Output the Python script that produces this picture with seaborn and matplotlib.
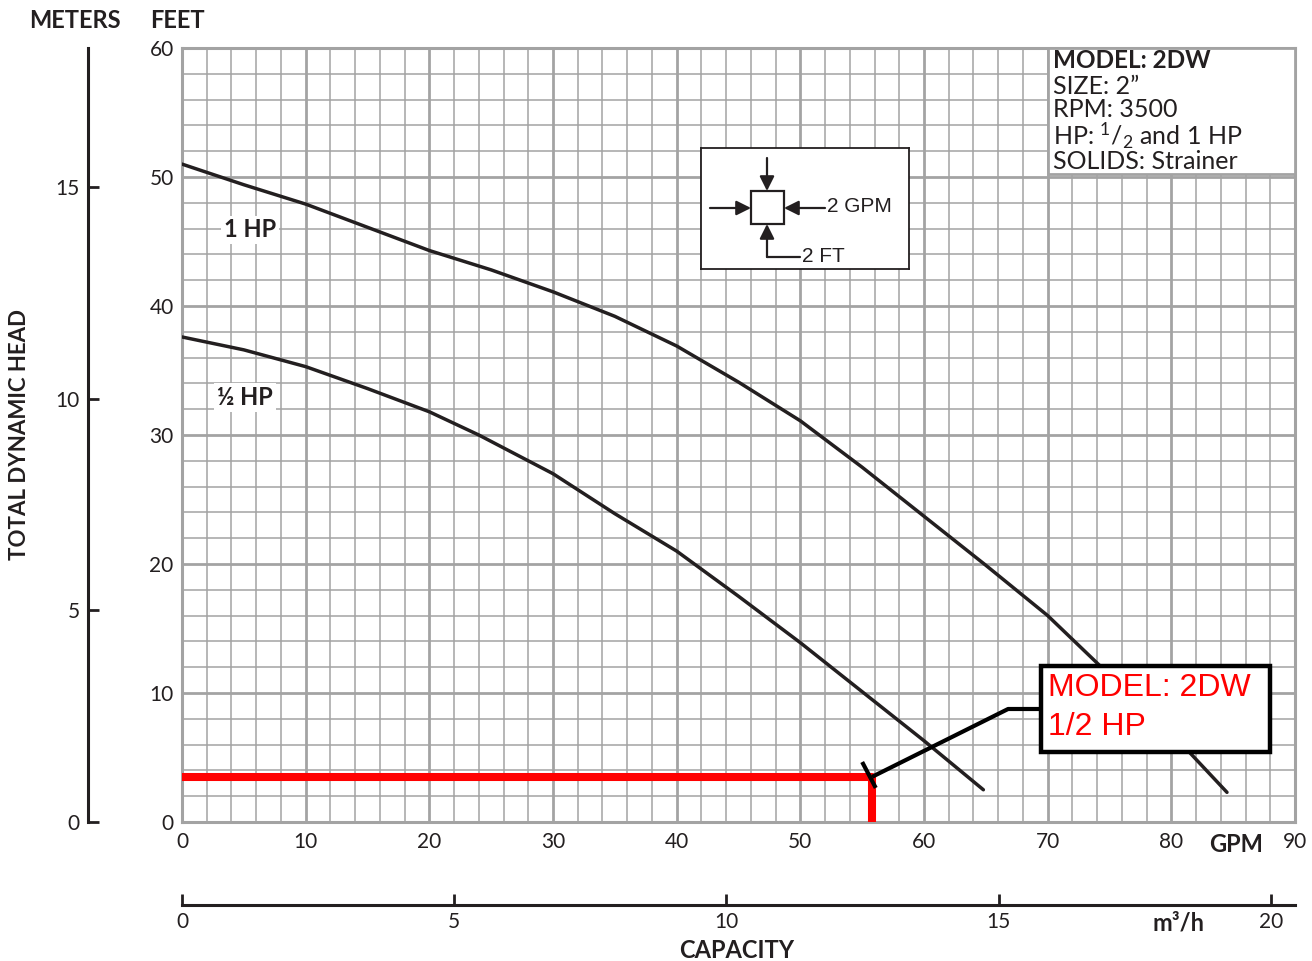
import numpy as np
import pandas as pd
import seaborn as sns
import matplotlib.pyplot as plt
from matplotlib.patches import Rectangle

# pump curve data (GPM vs feet of head)
gpm_1hp = [0, 5, 10, 15, 20, 25, 30, 35, 40, 45, 50, 55, 60, 65, 70, 75, 80, 84.5]
head_1hp = [51.0, 49.4, 47.9, 46.1, 44.3, 42.8, 41.1, 39.2, 36.9, 34.1, 31.1, 27.5,
            23.7, 19.9, 16.0, 11.4, 6.9, 2.3]
gpm_half = [0, 5, 10, 15, 20, 24, 30, 35, 40, 45, 50, 55, 60, 64.8]
head_half = [37.6, 36.6, 35.3, 33.6, 31.8, 30.0, 27.0, 23.9, 21.0, 17.5, 13.9, 10.1, 6.3, 2.5]

# duty point marked in red
duty_gpm = [0, 55.8, 55.8]
duty_head = [3.5, 3.5, 0]

spec_title = "MODEL: 2DW"
spec_lines = ["SIZE: 2”", "RPM: 3500",
              "HP: $\\mathregular{^1/_2}$ and 1 HP", "SOLIDS: Strainer"]
GPM_PER_M3H = 4.4029
FT_PER_M = 3.2808

sns.set_theme(style="white")
plt.rcParams['font.family'] = ['Lato', 'DejaVu Sans']
plt.rcParams['mathtext.fontset'] = 'custom'
plt.rcParams['mathtext.rm'] = 'Lato'
plt.rcParams['mathtext.default'] = 'regular'

W, H = 1312, 961
ink = '#231f20'
grid_c = '#a3a3a3'

fig = plt.figure(figsize=(13.12, 9.61), dpi=100)
fig.patch.set_facecolor('white')
ax = fig.add_axes([182 / W, 1 - 822 / H, 1113 / W, 774 / H])

df1 = pd.DataFrame({'gpm': gpm_1hp, 'head': head_1hp})
df2 = pd.DataFrame({'gpm': gpm_half, 'head': head_half})
sns.lineplot(data=df1, x='gpm', y='head', ax=ax, color=ink, lw=2.5, sort=False,
             estimator=None, zorder=3)
sns.lineplot(data=df2, x='gpm', y='head', ax=ax, color=ink, lw=2.5, sort=False,
             estimator=None, zorder=3)
sns.lineplot(x=duty_gpm, y=duty_head, ax=ax, color='#ff0000', lw=5.8, sort=False,
             estimator=None, zorder=4, solid_capstyle='butt', clip_on=False)

ax.set_xlim(0, 90)
ax.set_ylim(0, 60)
ax.set_xticks(range(0, 91, 10))
ax.set_yticks(range(0, 61, 10))
ax.set_xticks(np.arange(0, 91, 2), minor=True)
ax.set_yticks(np.arange(0, 61, 2), minor=True)
ax.grid(which='major', color=grid_c, lw=2.0)
ax.grid(which='minor', color=grid_c, lw=1.1)
ax.set_axisbelow(True)
ax.tick_params(which='both', length=0)
ax.tick_params(axis='y', labelsize=15, pad=6, labelcolor=ink)
ax.tick_params(axis='x', labelsize=15, pad=7, labelcolor=ink)
ax.set_xlabel('')
ax.set_ylabel('')
for s in ax.spines.values():
    s.set_color(grid_c)
    s.set_linewidth(2.2)

# secondary scales
sec_x = ax.secondary_xaxis(-0.107, functions=(lambda g: g / GPM_PER_M3H, lambda m: m * GPM_PER_M3H))
sec_x.set_xticks([0, 5, 10, 15, 20])
sec_x.tick_params(direction='in', length=8, width=2, labelsize=15, pad=5, labelcolor=ink, color=ink)
sec_x.spines['bottom'].set_linewidth(2.2)
sec_x.spines['bottom'].set_color(ink)

sec_y = ax.secondary_yaxis(-0.0845, functions=(lambda f: f / FT_PER_M, lambda m: m * FT_PER_M))
sec_y.set_yticks([0, 5, 10, 15])
sec_y.tick_params(direction='in', length=8, width=2, labelsize=15, pad=6, labelcolor=ink, color=ink)
sec_y.spines['left'].set_linewidth(2.2)
sec_y.spines['left'].set_color(ink)

# curve labels
box_w = dict(facecolor='white', edgecolor='none', pad=2)
ax.text(5.5, 45.9, '1 HP', fontsize=17, fontweight='bold', color=ink, ha='center', va='center', bbox=box_w, zorder=5)
ax.text(5.1, 32.9, '½ HP', fontsize=17, fontweight='bold', color=ink, ha='center', va='center', bbox=box_w, zorder=5)

# spec box
ax.add_patch(Rectangle((70, 50.2), 20, 9.8, facecolor='white', edgecolor=grid_c, lw=2.0, zorder=5))
ax.text(70.4, 59.0, spec_title, fontsize=17.5, fontweight='bold', color=ink, va='center', ha='left', zorder=6)
ax.text(70.4, 57.9, '\n'.join(spec_lines), fontsize=18, color=ink, va='top', ha='left',
        linespacing=0.98, zorder=6)

# red callout
ax.plot([55.8, 66.8, 69.5], [3.5, 8.76, 8.76], color='black', lw=3, zorder=6, solid_capstyle='butt')
ax.plot([55.0, 56.1], [4.65, 2.64], color='black', lw=3, zorder=6, solid_capstyle='butt')
ax.add_patch(Rectangle((69.5, 5.4), 18.5, 6.7, facecolor='white', edgecolor='black', lw=3.2, zorder=6))
ax.text(70.0, 10.4, 'MODEL: 2DW', fontsize=23, color='#ff0000', family='Liberation Sans', va='center', zorder=7)
ax.text(70.0, 7.4, '1/2 HP', fontsize=23, color='#ff0000', family='Liberation Sans', va='center', zorder=7)

# figure texts
def ftext(x, y, s, **kw):
    fig.text(x / W, 1 - y / H, s, color=ink, ha='center', va='center', **kw)

ftext(75, 21, 'METERS', fontsize=17, fontweight='bold')
ftext(177, 21, 'FEET', fontsize=17, fontweight='bold')
ftext(20, 435, 'TOTAL DYNAMIC HEAD', fontsize=16, fontweight='bold', rotation=90)
ftext(1236, 845, 'GPM', fontsize=17, fontweight='bold')
ftext(1178, 923, 'm³/h', fontsize=17, fontweight='bold')
ftext(737, 950, 'CAPACITY', fontsize=17, fontweight='bold')

# scale inset
ins = fig.add_axes([701 / W, 1 - 269 / H, 208 / W, 121 / H])
ins.set_xlim(0, 208)
ins.set_ylim(121, 0)
ins.set_xticks([])
ins.set_yticks([])
ins.set_facecolor('white')
for s in ins.spines.values():
    s.set_color(ink)
    s.set_linewidth(1.3)
ins.add_patch(Rectangle((50, 43), 33, 33, facecolor='white', edgecolor=ink, lw=1.6))
arr = dict(arrowstyle='-|>', color=ink, lw=1.6, mutation_scale=22, shrinkA=0, shrinkB=0)
ins.annotate('', xy=(66, 43), xytext=(66, 10), arrowprops=arr)
ins.annotate('', xy=(50, 60), xytext=(9, 60), arrowprops=arr)
ins.annotate('', xy=(83, 60), xytext=(124, 60), arrowprops=arr)
ins.annotate('', xy=(66, 76), xytext=(66, 109), arrowprops=arr)
ins.plot([66, 99], [109, 109], color=ink, lw=1.6)
ins.text(126, 59, '2 GPM', fontsize=15, color=ink, va='center', ha='left', family='Liberation Sans')
ins.text(101, 108, '2 FT', fontsize=15, color=ink, va='center', ha='left', family='Liberation Sans')

fig.savefig('out.png', dpi=100)
